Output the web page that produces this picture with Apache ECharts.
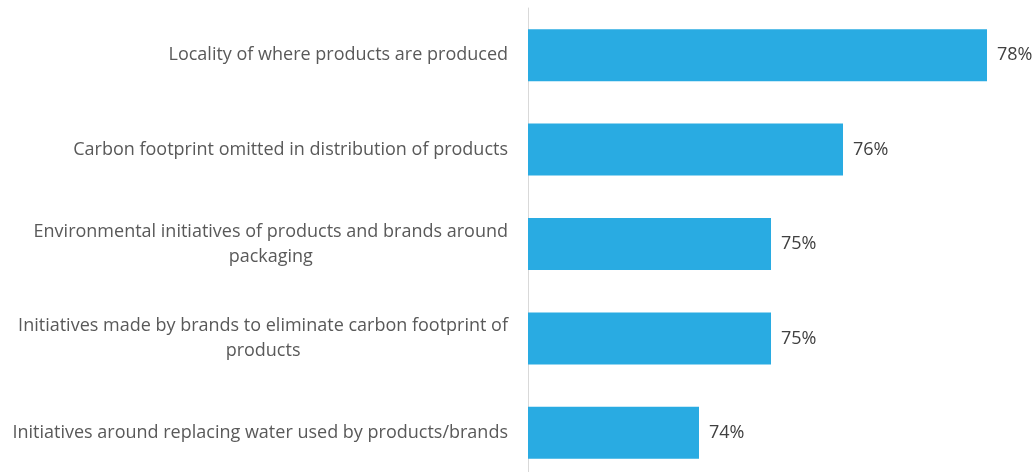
<!DOCTYPE html>
<html>
<head>
<meta charset="utf-8">
<script src="https://cdn.jsdelivr.net/npm/echarts@6/dist/echarts.min.js"></script>
<style>
  html, body { margin: 0; padding: 0; background: #ffffff; overflow: hidden; }
  /* the plot runs a little past the bottom edge of the page */
  #chart { width: 1035px; height: 480px; }
</style>
</head>
<body>
<div id="chart"></div>
<script>
// Factors considered important, share of respondents (%)
const categories = [
  'Locality of where products are produced',
  'Carbon footprint omitted in distribution of products',
  'Environmental initiatives of products and brands around\npackaging',
  'Initiatives made by brands to eliminate carbon footprint of\nproducts',
  'Initiatives around replacing water used by products/brands'
];
const shares = [78, 76, 75, 75, 74];

const chart = echarts.init(document.getElementById('chart'), null, { renderer: 'canvas' });

chart.setOption({
  animation: false,
  grid: { left: 528, width: 494, top: 8, bottom: 0, containLabel: false },
  xAxis: {
    type: 'value',
    min: 71.625,
    max: 78.486,
    show: false
  },
  yAxis: {
    type: 'category',
    data: categories,
    inverse: true,
    axisLine: { show: true, lineStyle: { color: '#d9d9d9', width: 1 } },
    axisTick: { show: false },
    axisLabel: {
      margin: 20,
      align: 'right',
      // each wrapped line is centred within the right-aligned label block
      formatter: function (value) {
        return value.split('\n').map(function (line) { return '{c|' + line + '}'; }).join('\n');
      },
      rich: {
        c: {
          align: 'center',
          color: '#595959',
          fontFamily: 'Open Sans',
          fontSize: 18,
          lineHeight: 25
        }
      }
    }
  },
  series: [{
    type: 'bar',
    data: shares,
    barWidth: 52,
    itemStyle: { color: '#29abe2' },
    label: {
      show: true,
      position: 'right',
      distance: 10,
      formatter: '{c}%',
      color: '#404040',
      fontFamily: 'Open Sans',
      fontSize: 18
    }
  }]
});
</script>
</body>
</html>
